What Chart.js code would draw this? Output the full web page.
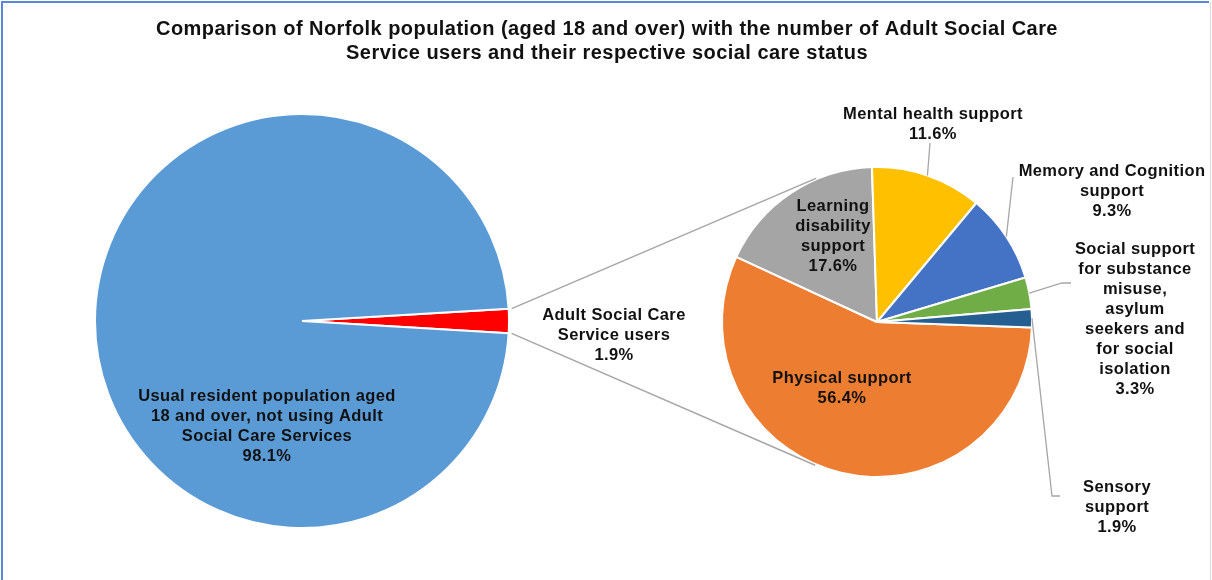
<!DOCTYPE html>
<html>
<head>
<meta charset="utf-8">
<title>Norfolk Adult Social Care</title>
<script src="https://cdn.jsdelivr.net/npm/chart.js@4.4.1/dist/chart.umd.min.js"></script>
<style>
  html, body { margin: 0; padding: 0; background: #ffffff; }
  #wrap { position: relative; width: 1212px; height: 580px; overflow: hidden; background: #ffffff; }
  #wrap canvas { position: absolute; left: 0; top: 0; }
</style>
</head>
<body>
<div id="wrap">
  <canvas id="popPie" width="1212" height="580"></canvas>
  <canvas id="carePie" width="1212" height="580"></canvas>
</div>
<script>
// ---- data ----
const titleLines = [
  'Comparison of Norfolk population (aged 18 and over) with the number of Adult Social Care',
  'Service users and their respective social care status'
];

// Norfolk residents aged 18+ (per cent)
const popCategories = [
  'Adult Social Care Service users',
  'Usual resident population aged 18 and over, not using Adult Social Care Services'
];
const popValues = [1.9, 98.1];

// Service users by primary support reason (per cent)
const careCategories = [
  'Physical support',
  'Learning disability support',
  'Mental health support',
  'Memory and Cognition support',
  'Social support for substance misuse, asylum seekers and for social isolation',
  'Sensory support'
];
const careValues = [56.4, 17.6, 11.6, 9.3, 3.3, 1.9];

// ---- styling / layout ----
const popColors = ['#FF0000', '#5B9BD5'];
const careColors = ['#ED7D31', '#A5A5A5', '#FFC000', '#4472C4', '#70AD47', '#255E91'];

const LABEL_FONT = 'bold 16.5px "Liberation Sans", Arial, sans-serif';
const TITLE_FONT = 'bold 20px "Liberation Sans", Arial, sans-serif';
const LINE_H = 20;
const TEXT_COLOR = '#111111';
const LEADER_COLOR = '#A6A6A6';

// label blocks: offsets from the pie centre, wrapped lines (percentage appended)
const popLabelLayout = [
  { dx: 312, dy: 14, lines: ['Adult Social Care', 'Service users'] },
  { dx: -35, dy: 105, lines: ['Usual resident population aged', '18 and over, not using Adult', 'Social Care Services'] }
];
const careLabelLayout = [
  { dx: -35, dy: 66, lines: ['Physical support'] },
  { dx: -44, dy: -86, lines: ['Learning', 'disability', 'support'] },
  { dx: 56, dy: -198, lines: ['Mental health support'], leader: [[53, -179]] },
  { dx: 235, dy: -131, lines: ['Memory and Cognition', 'support'], leader: [[136, -145]] },
  { dx: 258, dy: -3, lines: ['Social support', 'for substance', 'misuse,', 'asylum', 'seekers and', 'for social', 'isolation'], leader: [[194, -39], [185, -39]] },
  { dx: 240, dy: 185, lines: ['Sensory', 'support'], leader: [[183, 174], [175, 174]] }
];

const sum = arr => arr.reduce((a, b) => a + b, 0);
const pct = v => v.toFixed(1) + '%';

function drawBlock(ctx, lines, cx, cy) {
  ctx.save();
  ctx.font = LABEL_FONT;
  if ('letterSpacing' in ctx) ctx.letterSpacing = '0.4px';
  ctx.fillStyle = TEXT_COLOR;
  ctx.textAlign = 'center';
  ctx.textBaseline = 'middle';
  const top = cy - (lines.length - 1) * LINE_H / 2;
  lines.forEach((t, i) => ctx.fillText(t, cx, top + i * LINE_H));
  ctx.restore();
}

function arcProps(chart, i) {
  return chart.getDatasetMeta(0).data[i].getProps(['x', 'y', 'startAngle', 'endAngle', 'outerRadius'], true);
}

Chart.defaults.font.family = '"Liberation Sans", Arial, sans-serif';

// ---- left pie: whole adult population ----
const popChart = new Chart(document.getElementById('popPie'), {
  type: 'pie',
  data: {
    labels: popCategories,
    datasets: [{
      data: popValues,
      backgroundColor: popColors,
      borderColor: '#ffffff',
      borderWidth: 2,
      clip: false
    }]
  },
  options: {
    responsive: false,
    animation: false,
    radius: 207,
    rotation: 90 - popValues[0] / sum(popValues) * 180,
    layout: { padding: { left: 0, right: 608, top: 62, bottom: 0 } },
    plugins: { legend: { display: false }, tooltip: { enabled: false }, title: { display: false } }
  }
});

// ---- connectors, labels, title and frame ----
const annotations = {
  id: 'annotations',
  afterDraw(chart) {
    const ctx = chart.ctx;
    ctx.save();

    // frame
    ctx.lineWidth = 2;
    ctx.strokeStyle = '#5B87DA';
    ctx.beginPath();
    ctx.moveTo(2, 580); ctx.lineTo(2, 2); ctx.lineTo(1209, 2);
    ctx.stroke();
    ctx.lineWidth = 1;
    ctx.strokeStyle = '#DADADA';
    ctx.beginPath();
    ctx.moveTo(1210.5, 2); ctx.lineTo(1210.5, 580);
    ctx.stroke();

    // title
    ctx.font = TITLE_FONT;
    if ('letterSpacing' in ctx) ctx.letterSpacing = '0.45px';
    ctx.fillStyle = TEXT_COLOR;
    ctx.textAlign = 'center';
    ctx.textBaseline = 'middle';
    titleLines.forEach((t, i) => ctx.fillText(t, 607, 29 + i * 24));
    if ('letterSpacing' in ctx) ctx.letterSpacing = '0px';

    // connector lines from the users slice to the breakdown pie (tangents)
    const users = arcProps(popChart, 0);
    const big = chart.getDatasetMeta(0).data[0].getProps(['x', 'y', 'outerRadius'], true);
    const R = big.outerRadius + 1;
    const corner = a => ({ x: users.x + (users.outerRadius + 1) * Math.cos(a), y: users.y + (users.outerRadius + 1) * Math.sin(a) });
    const tangent = (p, sign) => {
      const dx = p.x - big.x, dy = p.y - big.y;
      const d = Math.hypot(dx, dy);
      const th = Math.atan2(dy, dx) + sign * Math.acos(R / d);
      return { x: big.x + R * Math.cos(th), y: big.y + R * Math.sin(th) };
    };
    const p1 = corner(users.startAngle), p2 = corner(users.endAngle);
    const t1 = tangent(p1, 1), t2 = tangent(p2, -1);
    ctx.strokeStyle = LEADER_COLOR;
    ctx.lineWidth = 1.5;
    ctx.beginPath();
    ctx.moveTo(p1.x + 2, p1.y); ctx.lineTo(t1.x, t1.y);
    ctx.moveTo(p2.x + 2, p2.y); ctx.lineTo(t2.x, t2.y);
    ctx.stroke();

    // left pie labels
    popLabelLayout.forEach((lab, i) => {
      drawBlock(ctx, lab.lines.concat(pct(popValues[i])), users.x + lab.dx, users.y + lab.dy);
    });

    // breakdown pie labels and leader lines
    careLabelLayout.forEach((lab, i) => {
      const a = arcProps(chart, i);
      if (lab.leader) {
        const mid = (a.startAngle + a.endAngle) / 2;
        ctx.strokeStyle = LEADER_COLOR;
        ctx.lineWidth = 1.3;
        ctx.beginPath();
        lab.leader.forEach((pt, k) => {
          const x = a.x + pt[0], y = a.y + pt[1];
          if (k === 0) ctx.moveTo(x, y); else ctx.lineTo(x, y);
        });
        ctx.lineTo(a.x + a.outerRadius * Math.cos(mid), a.y + a.outerRadius * Math.sin(mid));
        ctx.stroke();
      }
      drawBlock(ctx, lab.lines.concat(pct(careValues[i])), a.x + lab.dx, a.y + lab.dy);
    });

    ctx.restore();
  }
};

// ---- right pie: breakdown of service users ----
const careChart = new Chart(document.getElementById('carePie'), {
  type: 'pie',
  data: {
    labels: careCategories,
    datasets: [{
      data: careValues,
      backgroundColor: careColors,
      borderColor: '#ffffff',
      borderWidth: 2,
      clip: false
    }]
  },
  options: {
    responsive: false,
    animation: false,
    radius: 155,
    rotation: 92,
    layout: { padding: { left: 542, right: 0, top: 64, bottom: 0 } },
    plugins: { legend: { display: false }, tooltip: { enabled: false }, title: { display: false } }
  },
  plugins: [annotations]
});
</script>
</body>
</html>
